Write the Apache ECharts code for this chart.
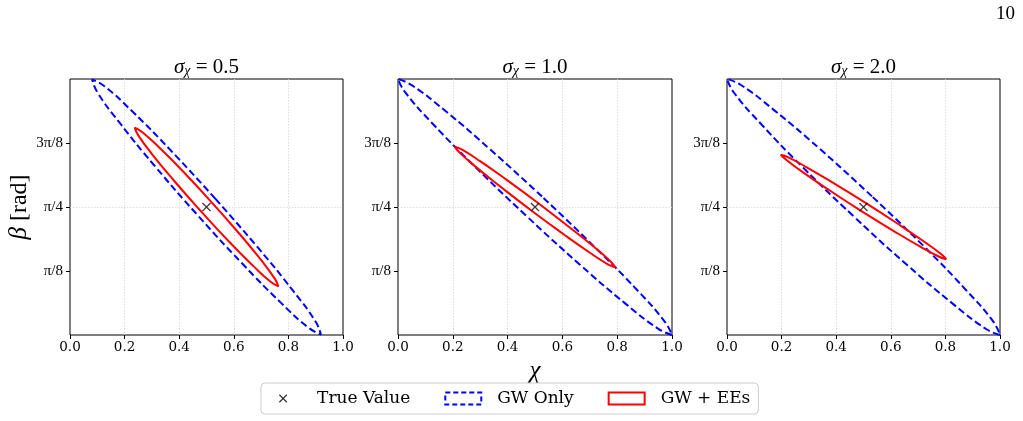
<!DOCTYPE html>
<html>
<head>
<meta charset="utf-8">
<script src="https://cdn.jsdelivr.net/npm/echarts@6.0.0/dist/echarts.min.js"></script>
<style>
html, body { margin: 0; padding: 0; background: #fff; }
#chart { width: 1023px; height: 421px; }
</style>
</head>
<body>
<div id="chart"></div>
<script>
// panel values (sigma_chi)
const sigmaLabels = ['0.5', '1.0', '2.0']
const trueValue = [0.5, 0.785]
const yTickValues = [Math.PI / 8, Math.PI / 4, 3 * Math.PI / 8]
const yTickLabels = ['π/8', 'π/4', '3π/8']

// contour points [chi, beta]
const gwOnly05 = [[0.533, 0.835], [0.691, 0.531], [0.819, 0.267], [0.900, 0.081], [0.919, 0.003], [0.875, 0.043], [0.773, 0.197], [0.630, 0.440], [0.467, 0.736], [0.309, 1.040], [0.181, 1.304], [0.100, 1.490], [0.081, 1.568], [0.125, 1.528], [0.227, 1.374], [0.370, 1.131], [0.533, 0.835]]
const gwOnly10 = [[0.531, 0.841], [0.720, 0.536], [0.876, 0.270], [0.974, 0.081], [1.000, 0.000], [0.950, 0.038], [0.831, 0.191], [0.663, 0.433], [0.469, 0.730], [0.280, 1.035], [0.124, 1.301], [0.026, 1.490], [0.000, 1.571], [0.050, 1.533], [0.169, 1.380], [0.337, 1.138], [0.531, 0.841]]
const gwOnly20 = [[0.534, 0.846], [0.723, 0.541], [0.877, 0.273], [0.975, 0.083], [1.000, 0.000], [0.949, 0.037], [0.830, 0.188], [0.660, 0.429], [0.466, 0.725], [0.277, 1.030], [0.123, 1.298], [0.025, 1.488], [0.000, 1.571], [0.051, 1.534], [0.170, 1.383], [0.340, 1.142], [0.534, 0.846]]
const gwEEs05 = [[0.519, 0.814], [0.618, 0.626], [0.699, 0.462], [0.750, 0.346], [0.763, 0.299], [0.736, 0.325], [0.673, 0.421], [0.583, 0.572], [0.481, 0.757], [0.382, 0.945], [0.301, 1.109], [0.250, 1.225], [0.237, 1.272], [0.264, 1.246], [0.327, 1.150], [0.417, 0.999], [0.519, 0.814]]
const gwEEs10 = [[0.511, 0.810], [0.622, 0.666], [0.715, 0.541], [0.775, 0.452], [0.793, 0.415], [0.766, 0.434], [0.699, 0.506], [0.602, 0.621], [0.489, 0.761], [0.378, 0.905], [0.285, 1.030], [0.225, 1.119], [0.207, 1.156], [0.234, 1.137], [0.301, 1.065], [0.398, 0.950], [0.511, 0.810]]
const gwEEs20 = [[0.509, 0.809], [0.624, 0.684], [0.720, 0.575], [0.783, 0.498], [0.803, 0.465], [0.777, 0.480], [0.708, 0.542], [0.608, 0.641], [0.491, 0.762], [0.376, 0.887], [0.280, 0.996], [0.217, 1.075], [0.197, 1.106], [0.223, 1.091], [0.292, 1.029], [0.392, 0.930], [0.509, 0.809]]

const gwOnly = [gwOnly05, gwOnly10, gwOnly20]
const gwEEs = [gwEEs05, gwEEs10, gwEEs20]

const panels = [
  { left: 70, width: 273 },
  { left: 398, width: 274 },
  { left: 727, width: 273 }
]
const crossPath = 'path://M-3,-3M13,13M0,0L10,10M10,0L0,10'
// wider box so the legend icon sits in the middle of its slot
const crossLegendPath = 'path://M-13,-3M23,13M0,0L10,10M10,0L0,10'
const serif = 'DejaVu Serif'
const mathFont = 'Liberation Serif'
const gridLine = { show: true, showMinLine: false, showMaxLine: false, lineStyle: { color: '#d4d4d4', type: [1.5, 1.5], width: 0.8 } }

const grid = []
const xAxis = []
const yAxis = []
const series = []
const graphic = []

panels.forEach((p, i) => {
  grid.push({
    left: p.left, top: 79, width: p.width, height: 256,
    show: true, borderColor: '#000', borderWidth: 1, backgroundColor: 'transparent'
  })
  xAxis.push({
    type: 'value', gridIndex: i, min: 0, max: 1, interval: 0.2,
    name: i === 1 ? 'χ' : '',
    nameLocation: 'middle',
    nameGap: 21,
    nameTextStyle: { fontFamily: mathFont, fontStyle: 'italic', fontSize: 25, color: '#000' },
    axisLine: { show: false },
    axisTick: { show: true, length: 4, lineStyle: { color: '#000' } },
    axisLabel: {
      color: '#000', fontFamily: serif, fontSize: 13.5, margin: 5,
      formatter: v => v.toFixed(1)
    },
    splitLine: gridLine
  })
  yAxis.push({
    type: 'value', gridIndex: i, min: 0, max: Math.PI / 2, interval: Math.PI / 8,
    name: i === 0 ? '{b|β} [rad]' : '',
    nameLocation: 'middle',
    nameRotate: 90,
    nameGap: 33,
    nameTextStyle: {
      fontFamily: mathFont, fontSize: 24, color: '#000',
      rich: { b: { fontFamily: mathFont, fontStyle: 'italic', fontSize: 25, color: '#000' } }
    },
    axisLine: { show: false },
    axisTick: { show: true, length: 4, customValues: yTickValues, lineStyle: { color: '#000' } },
    axisLabel: {
      customValues: yTickValues,
      color: '#000', fontFamily: mathFont, fontSize: 15, margin: 7,
      formatter: v => {
        let k = 0
        yTickValues.forEach((t, j) => { if (Math.abs(t - v) < Math.abs(yTickValues[k] - v)) k = j })
        return yTickLabels[k]
      }
    },
    splitLine: gridLine
  })

  series.push({
    name: 'GW Only', type: 'line', xAxisIndex: i, yAxisIndex: i,
    data: gwOnly[i], smooth: 0.5, showSymbol: false, symbol: 'none', z: 2,
    itemStyle: { color: '#0000ff' },
    lineStyle: { color: '#0000ff', width: 2, type: [7, 3.5] }
  })
  series.push({
    name: 'GW + EEs', type: 'line', xAxisIndex: i, yAxisIndex: i,
    data: gwEEs[i], smooth: 0.5, showSymbol: false, symbol: 'none', z: 3,
    itemStyle: { color: '#ff0000' },
    lineStyle: { color: '#ff0000', width: 2 }
  })
  series.push({
    name: 'True Value', type: 'scatter', xAxisIndex: i, yAxisIndex: i,
    data: [trueValue], symbol: crossPath, symbolSize: 13, z: 4,
    itemStyle: { color: 'transparent', borderColor: '#000', borderWidth: 1.3 }
  })

  graphic.push({
    type: 'text',
    x: p.left + p.width / 2, y: 51,
    style: {
      text: '{s|σ}{sub|χ}{n| = ' + sigmaLabels[i] + '}',
      align: 'center',
      rich: {
        s: { fontFamily: mathFont, fontStyle: 'italic', fontSize: 21, lineHeight: 27, verticalAlign: 'bottom', fill: '#000' },
        sub: { fontFamily: mathFont, fontStyle: 'italic', fontSize: 14, lineHeight: 14, verticalAlign: 'bottom', fill: '#000' },
        n: { fontFamily: mathFont, fontSize: 21, lineHeight: 27, verticalAlign: 'bottom', fill: '#000' }
      }
    }
  })
})

// page number
graphic.push({
  type: 'text', x: 1015, y: 5,
  style: { text: '10', align: 'right', fontFamily: mathFont, fontSize: 19, fill: '#000' }
})

const chart = echarts.init(document.getElementById('chart'))
chart.setOption({
  animation: false,
  backgroundColor: '#fff',
  grid,
  xAxis,
  yAxis,
  series,
  graphic,
  legend: {
    left: 261, top: 383,
    padding: [7, 8, 7, 8],
    itemWidth: 36, itemHeight: 12, itemGap: 34,
    backgroundColor: '#fff',
    borderColor: '#cccccc', borderWidth: 1, borderRadius: 4,
    textStyle: { fontFamily: serif, fontSize: 17, color: '#000', padding: [0, 0, 0, 11] },
    selectedMode: false,
    data: [
      { name: 'True Value', icon: crossLegendPath, itemStyle: { color: 'transparent', borderColor: '#000', borderWidth: 1.2 } },
      { name: 'GW Only', icon: 'rect', itemStyle: { color: 'transparent', borderColor: '#0000ff', borderWidth: 2, borderType: [5, 3] } },
      { name: 'GW + EEs', icon: 'rect', itemStyle: { color: 'transparent', borderColor: '#ff0000', borderWidth: 2 } }
    ]
  }
})
</script>
</body>
</html>
